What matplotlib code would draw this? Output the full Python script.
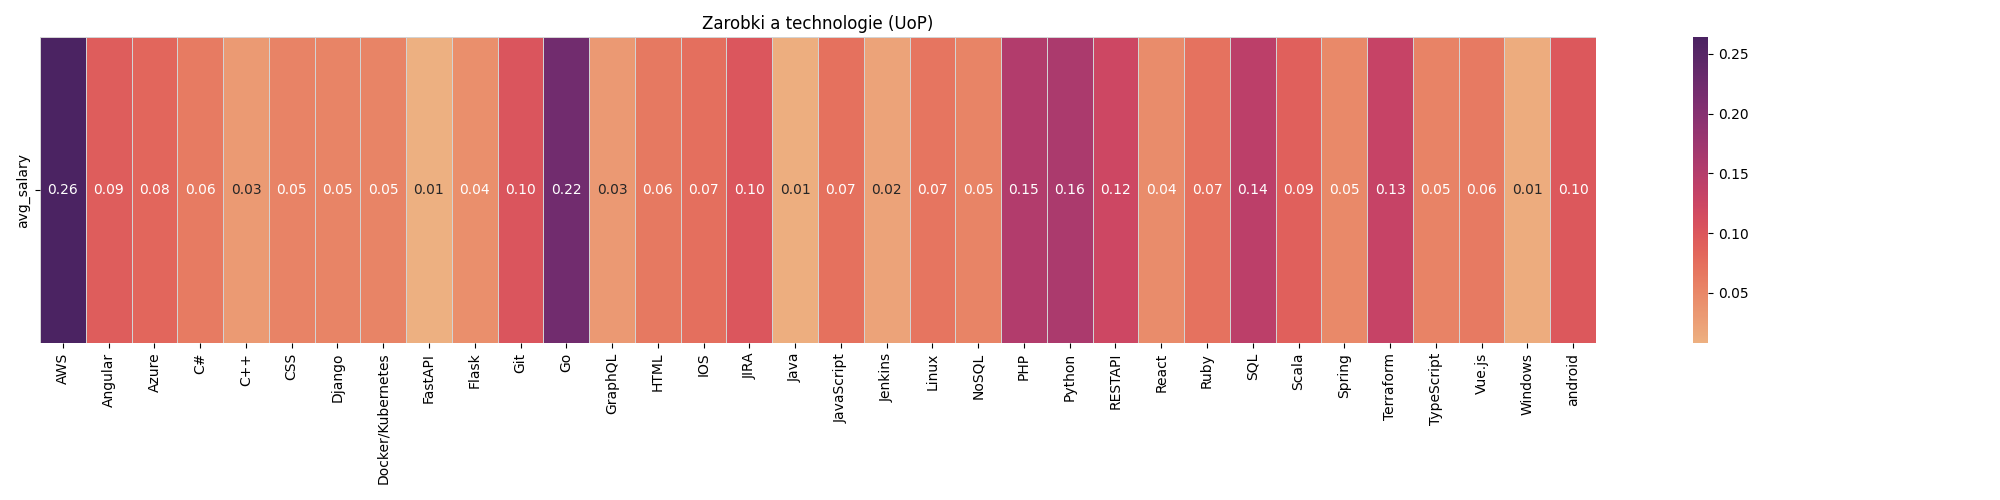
#!/usr/bin/env python3
"""Heatmap: Zarobki a technologie (UoP)."""

import matplotlib
matplotlib.use("Agg")
import matplotlib.pyplot as plt
import numpy as np
import pandas as pd
import seaborn as sns

technologies = [
    "AWS", "Angular", "Azure", "C#", "C++", "CSS", "Django", "Docker/Kubernetes",
    "FastAPI", "Flask", "Git", "Go", "GraphQL", "HTML", "IOS", "JIRA", "Java",
    "JavaScript", "Jenkins", "Linux", "NoSQL", "PHP", "Python", "RESTAPI",
    "React", "Ruby", "SQL", "Scala", "Spring", "Terraform", "TypeScript",
    "Vue.js", "Windows", "android",
]
avg_salary = [
    0.264, 0.094, 0.083, 0.062, 0.030, 0.054, 0.053, 0.053,
    0.008, 0.043, 0.102, 0.222, 0.031, 0.064, 0.074, 0.100, 0.011,
    0.072, 0.021, 0.068, 0.053, 0.152, 0.160, 0.123,
    0.045, 0.071, 0.143, 0.090, 0.048, 0.131, 0.054,
    0.063, 0.012, 0.098,
]

df = pd.DataFrame([avg_salary], columns=technologies, index=["avg_salary"])

fig = plt.figure(figsize=(20, 5), dpi=100)
ax = fig.add_axes([40 / 2000, 1 - 343 / 500, 1556 / 2000, 306 / 500])
cax = fig.add_axes([1693 / 2000, 1 - 343 / 500, 15 / 2000, 306 / 500])

sns.heatmap(
    df, ax=ax, cbar_ax=cax, cmap="flare", annot=True, fmt=".2f",
    linewidths=0.5, linecolor="lightgray",
)
cax.tick_params(labelsize=10)
for sp in cax.spines.values():
    sp.set_visible(False)
ax.set_title("Zarobki a technologie (UoP)", fontsize=12)
ax.set_xticklabels(technologies, rotation=90)

fig.savefig("out.png", dpi=100)
